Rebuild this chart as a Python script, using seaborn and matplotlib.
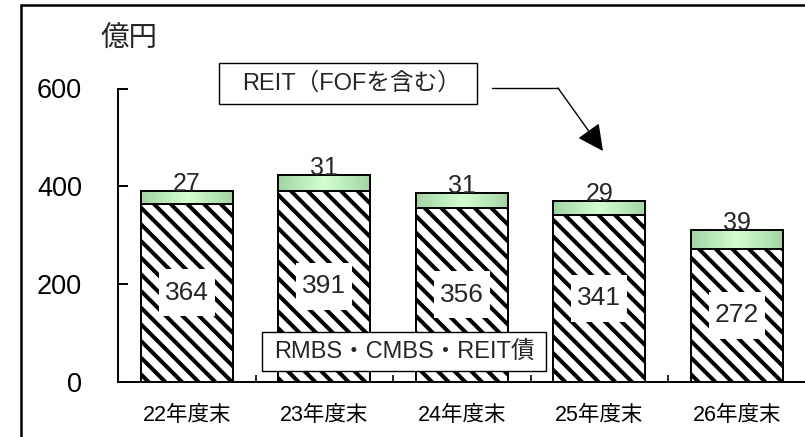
import numpy as np
import pandas as pd
import matplotlib
matplotlib.use("Agg")
import matplotlib.pyplot as plt
import seaborn as sns
from matplotlib.patches import Rectangle, FancyArrowPatch
from matplotlib.lines import Line2D
from matplotlib.colors import LinearSegmentedColormap

# ---- data ----
categories = ["22年度末", "23年度末", "24年度末", "25年度末", "26年度末"]
rmbs_values = [364, 391, 356, 341, 272]      # RMBS・CMBS・REIT債
reit_values = [27, 31, 31, 29, 39]           # REIT（FOFを含む）
y_ticks = [0, 200, 400, 600]
unit_label = "億円"
reit_label = "REIT（FOFを含む）"
rmbs_label = "RMBS・CMBS・REIT債"

totals = [a + b for a, b in zip(rmbs_values, reit_values)]
df = pd.DataFrame({"cat": categories, "rmbs": rmbs_values, "reit": reit_values, "total": totals})

sns.set_theme(style="white")
plt.rcParams["font.family"] = ["Liberation Sans", "Noto Sans CJK JP", "DejaVu Sans"]
plt.rcParams["hatch.linewidth"] = 2.9

W, H = 805, 437
fig = plt.figure(figsize=(W / 100, H / 100), dpi=100)
fig.patch.set_facecolor("white")

def fx(px):
    return px / W

def fy(py):
    return 1 - py / H

ax = fig.add_axes([fx(118), fy(381.7), (805.5 - 118) / W, (381.7 - 88.5) / H])
ax.set_facecolor("white")

# total bars (green top segment)
sns.barplot(data=df, x="cat", y="total", ax=ax, color="#c4ecc4", saturation=1,
            edgecolor="black", linewidth=1.4, width=0.67, zorder=2)
green_patches = list(ax.patches)

cmap = LinearSegmentedColormap.from_list("g", ["#a3d3a3", "#d2ffd2", "#a3d3a3"])
grad = np.linspace(0, 1, 256).reshape(1, -1)
for p, bot in zip(green_patches, rmbs_values):
    x0, w, h = p.get_x(), p.get_width(), p.get_height()
    im = ax.imshow(grad, cmap=cmap, extent=(x0, x0 + w, bot, h), aspect="auto",
                   zorder=2.5, interpolation="bicubic")
    im.set_clip_path(p)
    p.set_facecolor("none")
    p.set_zorder(2.6)

# hatched bottom bars
sns.barplot(data=df, x="cat", y="rmbs", ax=ax, color="white", saturation=1,
            edgecolor="black", linewidth=1.4, width=0.67, hatch="\\\\", zorder=3)

ax.set_xlim(-0.5, 4.5)
ax.set_ylim(0, 600)

# axes styling
for s in ["top", "right"]:
    ax.spines[s].set_visible(False)
for s in ["left", "bottom"]:
    ax.spines[s].set_visible(True)
    ax.spines[s].set_color("black")
    ax.spines[s].set_linewidth(1.4)

ax.set_yticks(y_ticks)
ax.set_yticklabels([str(v) for v in y_ticks], fontsize=19.5)
ax.tick_params(axis="y", direction="in", length=7, width=1.4, pad=26, colors="black", left=True)
ax.set_xticks(range(len(categories)))
ax.set_xticklabels(categories, fontsize=15.5)
ax.tick_params(axis="x", which="major", length=0, pad=17, colors="black")
ax.set_xticks([i + 0.5 for i in range(len(categories) - 1)], minor=True)
ax.tick_params(axis="x", which="minor", direction="in", length=5, width=1.2, bottom=True, colors="black")
ax.set_xlabel("")
ax.set_ylabel("")
ax.grid(False)

# value labels (white label boxes ~56x47 px)
box_w = 56 / 137.5            # in category units
box_h = 47 / 97.5 * 200       # in data units
for i, (b, t) in enumerate(zip(rmbs_values, reit_values)):
    ax.add_patch(Rectangle((i - box_w / 2, b / 2 - box_h / 2), box_w, box_h,
                           fc="white", ec="none", zorder=4))
    ax.text(i, b / 2, str(b), ha="center", va="center", fontsize=19, zorder=5)
    ax.text(i, b + t, str(t), ha="center", va="baseline", fontsize=18, zorder=5)

# unit label
fig.text(fx(129), fy(40), unit_label, ha="center", va="center", fontsize=20.5)

# annotation box 1
fig.patches.append(Rectangle((fx(219), fy(104)), (477 - 219) / W, (104 - 63) / H,
                             transform=fig.transFigure, fc="white", ec="black", lw=1.0, zorder=6))
fig.text(fx(352), fy(84), reit_label, ha="center", va="center", fontsize=17, zorder=7)
fig.lines.append(Line2D([fx(492), fx(558)], [fy(88), fy(88)], transform=fig.transFigure,
                        color="black", lw=1.0, zorder=6))
fig.patches.append(FancyArrowPatch((fx(558), fy(88)), (fx(603), fy(151)), transform=fig.transFigure,
                                   arrowstyle="-|>,head_length=0.9,head_width=0.45", mutation_scale=18,
                                   color="black", lw=1.0, zorder=6, shrinkA=0, shrinkB=0))

# annotation box 2
fig.patches.append(Rectangle((fx(262), fy(371)), (546 - 262) / W, (371 - 332) / H,
                             transform=fig.transFigure, fc="white", ec="black", lw=1.0, zorder=6))
fig.text(fx(404), fy(352), rmbs_label, ha="center", va="center", fontsize=17, zorder=7)

# outer frame (partially visible)
fig.lines.append(Line2D([fx(21), fx(806)], [fy(4.5), fy(4.5)], transform=fig.transFigure,
                        color="black", lw=1.8))
fig.lines.append(Line2D([fx(21), fx(21)], [fy(4.5), fy(438)], transform=fig.transFigure,
                        color="black", lw=1.8))

fig.savefig("out.png", dpi=100)
